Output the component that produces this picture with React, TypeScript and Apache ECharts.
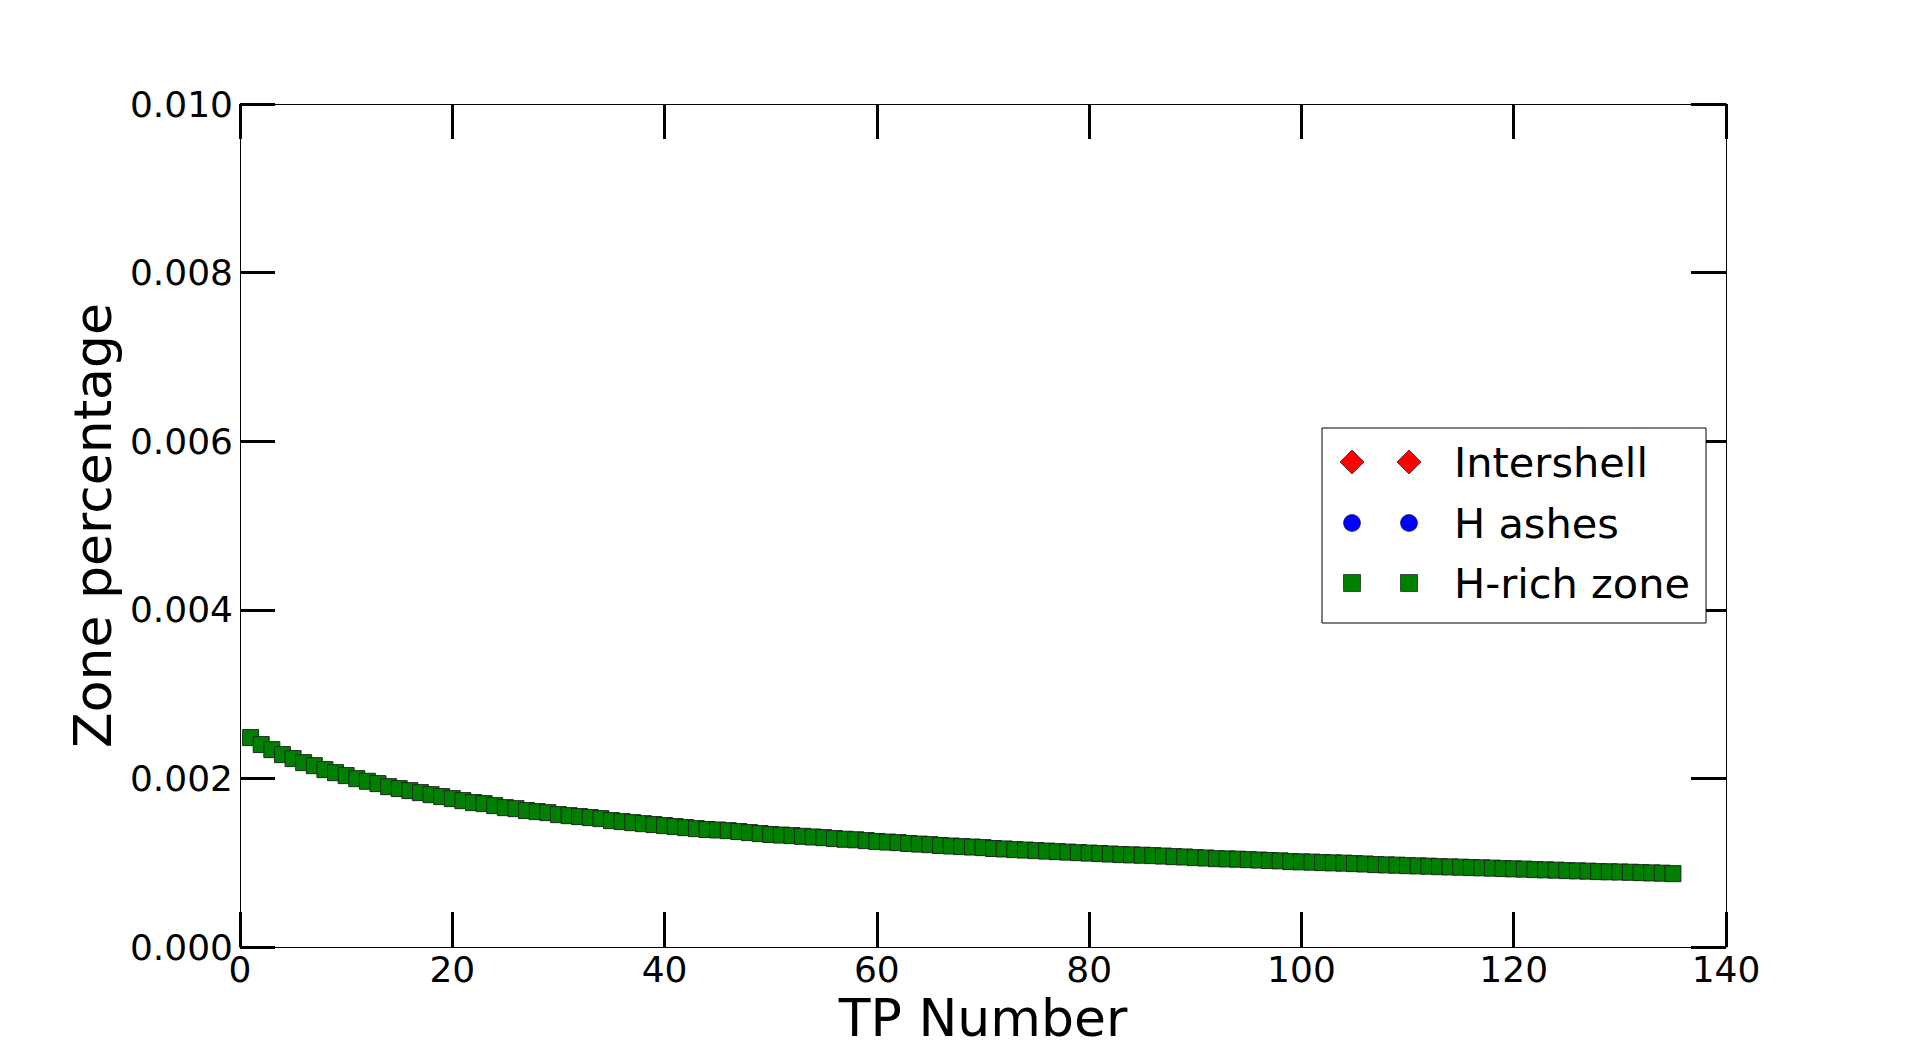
import React, { useEffect, useRef } from "react";
import * as echarts from "echarts";

const xTicks = [0, 20, 40, 60, 80, 100, 120, 140];
const yTicks = [0.0, 0.002, 0.004, 0.006, 0.008, 0.01];

const seriesNames = ["Intershell", "H ashes", "H-rich zone"];

// Intershell and H ashes lie outside the visible range (no points drawn)
const intershell: number[][] = [];
const hAshes: number[][] = [];

const hRichZoneValues = [
  0.002484, 0.002401, 0.002341, 0.002282, 0.002235, 0.002187, 0.002151, 0.002104, 0.002068, 0.002033,
  0.001997, 0.001966, 0.001938, 0.001902, 0.001879, 0.001855, 0.001831, 0.001807, 0.001784, 0.00176,
  0.001736, 0.001713, 0.001701, 0.001677, 0.001653, 0.001641, 0.001618, 0.001606, 0.001594, 0.00157,
  0.001558, 0.001547, 0.001535, 0.001523, 0.001499, 0.001487, 0.001475, 0.001463, 0.001452, 0.00144,
  0.001428, 0.001416, 0.001404, 0.001394, 0.001388, 0.00138, 0.001369, 0.001357, 0.001345, 0.001335,
  0.001328, 0.001321, 0.001313, 0.001305, 0.001297, 0.001286, 0.001278, 0.001272, 0.001262, 0.001252,
  0.001245, 0.001238, 0.001228, 0.001221, 0.001214, 0.001204, 0.001198, 0.001191, 0.001186, 0.001179,
  0.001168, 0.001163, 0.001155, 0.00115, 0.001143, 0.001138, 0.001131, 0.001126, 0.001119, 0.001114,
  0.001108, 0.001103, 0.001096, 0.001093, 0.001089, 0.001084, 0.001079, 0.001072, 0.001068, 0.00106,
  0.001056, 0.001048, 0.001045, 0.001042, 0.001036, 0.001032, 0.001025, 0.001022, 0.001013, 0.00101,
  0.001007, 0.001001, 0.000998, 0.000995, 0.000989, 0.000985, 0.000977, 0.000974, 0.000971, 0.000965,
  0.000962, 0.000959, 0.000953, 0.00095, 0.000947, 0.000942, 0.000939, 0.000936, 0.00093, 0.000927,
  0.000924, 0.000918, 0.000915, 0.000912, 0.000906, 0.000903, 0.0009, 0.000894, 0.000892, 0.00089,
  0.000887, 0.000882, 0.000879, 0.000876, 0.00087,
];

// TP numbers 1..135 (one point per thermal pulse)
const tpNumbers = hRichZoneValues.map((_, i) => i + 1);

const FONT = "DejaVu Sans";

export default function App() {
  const ref = useRef<HTMLDivElement>(null);

  useEffect(() => {
    if (!ref.current) return;
    const chart = echarts.init(ref.current, null, { renderer: "svg" });

    const gridLeft = 240;
    const gridTop = 104;
    const gridRight = 192;
    const gridBottom = 105;

    const tickStyle = { show: true, inside: true, length: 35, lineStyle: { color: "#000", width: 3 } };
    const lineStyle = { show: true, onZero: false, lineStyle: { color: "#000", width: 1 } };

    const xMin = xTicks[0];
    const xMax = xTicks[xTicks.length - 1];
    const xInt = xTicks[1] - xTicks[0];
    const yMin = yTicks[0];
    const yMax = yTicks[yTicks.length - 1];
    const yInt = yTicks[1] - yTicks[0];

    // legend box (matplotlib style: two markers per entry)
    const lx = 1322, ly = 428, lw = 384, lh = 195;
    const rows = [462, 523, 583];
    const mx = [1352, 1409];
    const legendEls: any[] = [
      {
        type: "rect",
        shape: { x: lx, y: ly, width: lw, height: lh },
        style: { fill: "#fff", stroke: "#000", lineWidth: 1 },
        z: 100,
      },
    ];
    mx.forEach((cx) => {
      legendEls.push({
        type: "polygon",
        shape: { points: [[cx - 12, rows[0]], [cx, rows[0] - 12], [cx + 12, rows[0]], [cx, rows[0] + 12]] },
        style: { fill: "#ff0000", stroke: "#000", lineWidth: 0.6 },
        z: 101,
      });
      legendEls.push({
        type: "circle",
        shape: { cx, cy: rows[1], r: 8.5 },
        style: { fill: "#0000ff", stroke: "#000", lineWidth: 0.5 },
        z: 101,
      });
      legendEls.push({
        type: "rect",
        shape: { x: cx - 8.5, y: rows[2] - 8.5, width: 17, height: 17 },
        style: { fill: "#008000", stroke: "#000", lineWidth: 0.6 },
        z: 101,
      });
    });
    seriesNames.forEach((name, i) => {
      legendEls.push({
        type: "text",
        x: 1454,
        y: rows[i],
        style: {
          text: name,
          fontFamily: FONT,
          fontSize: 41.5,
          fill: "#000",
          align: "left",
          verticalAlign: "middle",
        },
        z: 101,
      });
    });

    chart.setOption({
      animation: false,
      backgroundColor: "#fff",
      grid: { left: gridLeft, top: gridTop, right: gridRight, bottom: gridBottom, containLabel: false },
      xAxis: [
        {
          type: "value",
          min: xMin,
          max: xMax,
          interval: xInt,
          position: "bottom",
          name: "TP Number",
          nameLocation: "middle",
          nameGap: 40,
          nameTextStyle: { fontFamily: FONT, fontSize: 52, color: "#000" },
          axisLine: lineStyle,
          axisTick: tickStyle,
          axisLabel: { fontFamily: FONT, fontSize: 36, color: "#000", margin: 4 },
          splitLine: { show: false },
        },
        {
          type: "value",
          min: xMin,
          max: xMax,
          interval: xInt,
          position: "top",
          axisLine: lineStyle,
          axisTick: tickStyle,
          axisLabel: { show: false },
          splitLine: { show: false },
        },
      ],
      yAxis: [
        {
          type: "value",
          min: yMin,
          max: yMax,
          interval: yInt,
          position: "left",
          name: "Zone percentage",
          nameLocation: "middle",
          nameGap: 112,
          nameRotate: 90,
          nameTextStyle: { fontFamily: FONT, fontSize: 52, color: "#000" },
          axisLine: lineStyle,
          axisTick: tickStyle,
          axisLabel: {
            fontFamily: FONT,
            fontSize: 36,
            color: "#000",
            margin: 7,
            verticalAlign: "middle",
            padding: [0, 0, 5, 0],
            formatter: (v: number) => v.toFixed(3),
          },
          splitLine: { show: false },
        },
        {
          type: "value",
          min: yMin,
          max: yMax,
          interval: yInt,
          position: "right",
          axisLine: lineStyle,
          axisTick: tickStyle,
          axisLabel: { show: false },
          splitLine: { show: false },
        },
      ],
      series: [
        {
          name: seriesNames[0],
          type: "scatter",
          xAxisIndex: 0,
          yAxisIndex: 0,
          symbol: "diamond",
          symbolSize: 24,
          itemStyle: { color: "#ff0000", borderColor: "#000", borderWidth: 0.6 },
          data: intershell,
        },
        {
          name: seriesNames[1],
          type: "scatter",
          xAxisIndex: 0,
          yAxisIndex: 0,
          symbol: "circle",
          symbolSize: 17,
          itemStyle: { color: "#0000ff", borderColor: "#000", borderWidth: 0.5 },
          data: hAshes,
        },
        {
          name: seriesNames[2],
          type: "scatter",
          xAxisIndex: 0,
          yAxisIndex: 0,
          symbol: "rect",
          symbolSize: 16,
          itemStyle: { color: "#008000", borderColor: "#1a2a1a", borderWidth: 1, opacity: 1 },
          data: tpNumbers.map((x, i) => [x, hRichZoneValues[i]]),
        },
      ],
      graphic: legendEls,
    });

    return () => chart.dispose();
  }, []);

  return (
    <div
      ref={ref}
      style={{ position: "fixed", left: 0, top: 0, width: 1918, height: 1052, background: "#fff" }}
    />
  );
}
